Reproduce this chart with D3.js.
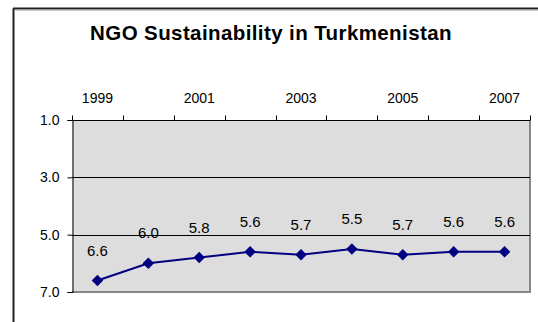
<!DOCTYPE html>
<html>
<head>
<meta charset="utf-8">
<script src="https://cdn.jsdelivr.net/npm/d3@7"></script>
<style>
  html, body { margin: 0; padding: 0; background: #fff; }
  svg { display: block; font-family: "Liberation Sans", Arial, sans-serif; }
</style>
</head>
<body>
<svg id="chart" width="538" height="322"></svg>
<script>
// NGO Sustainability Index scores, Turkmenistan (1 = best, 7 = worst)
const years = ["1999", "2000", "2001", "2002", "2003", "2004", "2005", "2006", "2007"];
const scores = [6.6, 6.0, 5.8, 5.6, 5.7, 5.5, 5.7, 5.6, 5.6];
const yearTickLabels = ["1999", "2001", "2003", "2005", "2007"];
const scoreTicks = [1.0, 3.0, 5.0, 7.0];

const svg = d3.select("#chart");
const plot = { left: 72, top: 120, right: 530, bottom: 292 };

// outer frame (only the left and top edges fall inside the view)
svg.append("line").attr("x1", 13.5).attr("x2", 13.5).attr("y1", 8.5).attr("y2", 322)
  .attr("stroke", "#222").attr("stroke-width", 2);
svg.append("line").attr("x1", 13).attr("x2", 538).attr("y1", 8.5).attr("y2", 8.5)
  .attr("stroke", "#222").attr("stroke-width", 2);
svg.append("line").attr("x1", 15).attr("x2", 538).attr("y1", 10).attr("y2", 10)
  .attr("stroke", "#999").attr("stroke-width", 1);

svg.append("text")
  .attr("x", 271).attr("y", 40)
  .attr("text-anchor", "middle")
  .attr("font-size", 20.5).attr("font-weight", "bold")
  .attr("letter-spacing", 0.4)
  .attr("fill", "#000")
  .text("NGO Sustainability in Turkmenistan");

const x = d3.scaleBand().domain(years).range([plot.left, plot.right]).padding(0);
const y = d3.scaleLinear().domain([1, 7]).range([plot.top, plot.bottom]);

// plot background
svg.append("rect")
  .attr("x", plot.left).attr("y", plot.top)
  .attr("width", plot.right - plot.left).attr("height", plot.bottom - plot.top)
  .attr("fill", "#dddddd");
svg.append("line").attr("x1", plot.right).attr("x2", plot.right)
  .attr("y1", plot.top).attr("y2", plot.bottom + 1)
  .attr("stroke", "#888").attr("stroke-width", 2);
svg.append("line").attr("x1", plot.left).attr("x2", plot.right + 1)
  .attr("y1", plot.bottom).attr("y2", plot.bottom)
  .attr("stroke", "#888").attr("stroke-width", 2);

// horizontal gridlines
svg.append("g").selectAll("line")
  .data(scoreTicks.filter(d => d > 1 && d < 7))
  .join("line")
  .attr("x1", plot.left).attr("x2", plot.right)
  .attr("y1", d => Math.round(y(d)) + 0.5).attr("y2", d => Math.round(y(d)) + 0.5)
  .attr("stroke", "#000").attr("stroke-width", 1);

// left axis (scores)
const yAxis = svg.append("g")
  .attr("transform", `translate(${plot.left + 0.5},0)`)
  .call(d3.axisLeft(y).tickValues(scoreTicks).tickFormat(d3.format(".1f")).tickSize(5).tickPadding(8));
yAxis.select(".domain").attr("stroke", "#000");
yAxis.selectAll(".tick line").attr("stroke", "#000");
yAxis.selectAll("text").attr("font-size", 14).attr("fill", "#000")
  .attr("font-family", "Liberation Sans, Arial, sans-serif");

// top axis (years); ticks at category boundaries, labels centred on categories
const xTop = svg.append("g").attr("transform", `translate(0,${plot.top + 0.5})`);
xTop.append("line").attr("x1", plot.left).attr("x2", plot.right)
  .attr("stroke", "#000");
xTop.selectAll(".tk").data(years)
  .join("line").attr("class", "tk")
  .attr("x1", d => Math.round(x(d) + x.bandwidth()) + 0.5)
  .attr("x2", d => Math.round(x(d) + x.bandwidth()) + 0.5)
  .attr("y1", -5).attr("y2", 0)
  .attr("stroke", "#000");
xTop.append("line").attr("x1", plot.left + 0.5).attr("x2", plot.left + 0.5)
  .attr("y1", -5).attr("y2", 0).attr("stroke", "#000");
xTop.selectAll("text").data(yearTickLabels).join("text")
  .attr("x", d => x(d) + x.bandwidth() / 2)
  .attr("y", -18)
  .attr("text-anchor", "middle")
  .attr("font-size", 14).attr("fill", "#000")
  .text(d => d);

// series
const cx = (d, i) => x(years[i]) + x.bandwidth() / 2;
const line = d3.line().x(cx).y(d => y(d));
svg.append("path").datum(scores)
  .attr("d", line).attr("fill", "none")
  .attr("stroke", "#000080").attr("stroke-width", 2);

svg.append("g").selectAll("path")
  .data(scores).join("path")
  .attr("d", d3.symbol(d3.symbolSquare, 66))
  .attr("transform", (d, i) => `translate(${cx(d, i)},${y(d)}) rotate(45)`)
  .attr("fill", "#000080");

svg.append("g").selectAll("text")
  .data(scores).join("text")
  .attr("x", cx)
  .attr("y", d => y(d) - 25)
  .attr("text-anchor", "middle")
  .attr("font-size", 15).attr("fill", "#000")
  .text(d => d.toFixed(1));
</script>
</body>
</html>
